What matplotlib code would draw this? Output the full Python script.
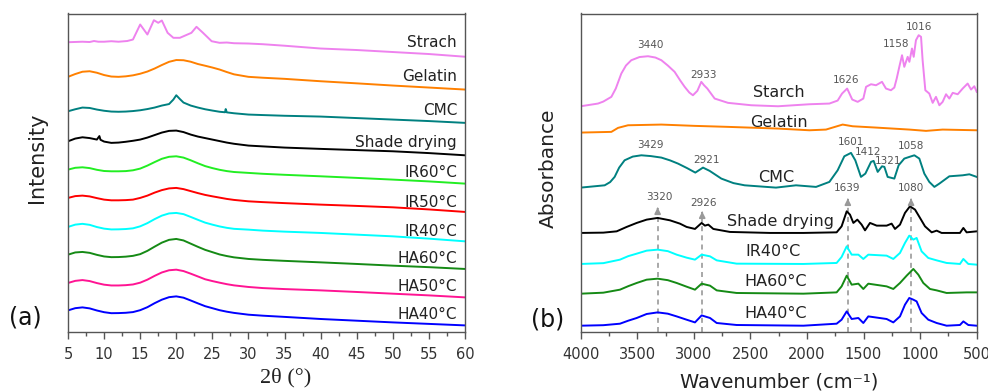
import numpy as np
import matplotlib
matplotlib.use("Agg")
import matplotlib.pyplot as plt

# ---- XRD data (a) ----
two_theta = [5, 6, 7, 8, 9, 10, 11, 12, 13, 14, 15, 16, 17, 18, 19, 20, 21, 22, 23, 24,
             25, 26, 27, 28, 30, 32, 35, 40, 45, 50, 55, 60]

starch_tt = [5, 7, 8, 8.6, 9.2, 10, 11, 12, 13.2, 14, 15, 16, 16.9, 17.5, 18, 18.8, 19.6,
             20.5, 22.1, 22.8, 23.7, 24.9, 26, 27, 28, 30, 32, 35, 40, 45, 50, 55, 60]
starch_xrd = [289.3, 289.8, 289.5, 290.5, 289.8, 289.8, 290.3, 289.8, 290.5, 292, 307, 297,
              311.3, 308.7, 311, 298.7, 293.7, 293.7, 298.7, 304.7, 298.7, 290.3, 288.7, 289,
              288.3, 288, 287.3, 285.8, 283, 281.5, 279.5, 277.5, 274.8]
gelatin_xrd = [254.7, 257.5, 259.8, 260.3, 258.8, 256.5, 255, 254.7, 255.2, 256.2, 257.8, 260,
               263, 266.5, 269.7, 271.5, 271.3, 269.8, 267.5, 265.8, 264, 262, 259.5, 257.2,
               254.7, 253.8, 252.7, 250.3, 248.2, 246, 244, 242]
cmc_tt = [5, 6, 7, 8, 9, 10, 11, 12, 13, 14, 15, 16, 17, 18, 19, 19.6, 20, 20.5, 21, 22, 23,
          24, 25, 26, 26.75, 26.85, 27, 28, 30, 32, 35, 40, 45, 50, 55, 60]
cmc_xrd = [220.3, 222.3, 224, 223.6, 222, 220.8, 220, 219.8, 220, 220.5, 221.3, 222.5, 224,
           226, 227.5, 232, 236.3, 232.5, 229, 226, 224, 222.3, 221, 219.8, 219.3, 222.5,
           219.2, 218.3, 217, 216.5, 215.8, 215, 213.5, 212, 210.5, 208.7]
shade_tt = [5, 6, 7, 8, 9, 9.35, 9.5, 10, 11, 12, 13, 14, 15, 16, 17, 18, 19, 20, 21, 22, 23,
            24, 25, 26, 27, 28, 30, 32, 35, 40, 45, 50, 55, 60]
shade_xrd = [190.3, 193, 194.3, 193.5, 192, 195.5, 191.8, 190, 188.7, 189, 189.8, 190.8, 192,
             194, 196.5, 199, 200.7, 201, 199.5, 197, 195, 193.5, 192, 190.5, 189, 187.8, 186,
             185.2, 184, 182.7, 181.5, 180.3, 178.5, 176.3]
ir60_xrd = [162, 163.8, 164.3, 163.5, 161.8, 160.6, 160.3, 160.3, 160.5, 161.3, 163, 166,
            169.5, 172.8, 174.8, 175.3, 174, 171.3, 168.3, 165.5, 163.5, 161.8, 160.5, 159.6,
            158.7, 157.8, 156.8, 155.3, 153.7, 152, 150.2, 148]
ir50_xrd = [133.7, 135.5, 136, 135.2, 133.5, 132, 131.3, 131.3, 131.5, 132, 133.7, 136, 139,
            141.5, 143.2, 143.7, 142.5, 140.5, 138.5, 136.7, 135.3, 134, 132.7, 131.7, 130.3,
            129.5, 128.5, 127, 125.7, 124.3, 122.2, 119.7]
ir40_xrd = [104.7, 107, 107.8, 106.8, 104.6, 103, 102.2, 102.3, 102.6, 103.3, 105.3, 108.5,
            112.5, 116, 118.2, 118.7, 117.5, 114.7, 111.8, 109, 107, 105.2, 103.8, 102.8, 102,
            101, 100, 98.7, 97, 95.3, 93, 90.3]
ha60_xrd = [77, 79.2, 79.7, 78.8, 76.8, 75.2, 74.5, 74.6, 75, 75.8, 77.5, 80.8, 85, 89, 91.8,
            92.7, 91.2, 88, 84.8, 81.8, 79.5, 77.2, 75.6, 74.3, 72.7, 71.8, 70.8, 69.3, 67.7,
            66, 64.5, 62.7]
ha50_xrd = [48.7, 50.8, 51.6, 50.6, 48.6, 47, 46.2, 46.2, 46.5, 47.2, 49, 52, 55.8, 59.2, 61.4,
            62, 60.6, 58, 55.2, 52.4, 50.6, 49, 47.5, 46.3, 44.7, 43.6, 42.6, 41.3, 39.7, 38,
            36.3, 34.3]
ha40_xrd = [21.3, 23.5, 24.3, 23.3, 21.2, 19.5, 18.5, 18.6, 18.9, 19.6, 21.5, 24.5, 28.5, 32,
            34.5, 35.3, 34, 31.2, 28.3, 25.5, 23.5, 21.5, 20, 18.8, 17, 16, 14.8, 12.7, 11, 9.3,
            7.8, 6.3]

# ---- FTIR data (b) ----
starch_wn = [4000, 3847, 3800, 3729, 3690, 3641, 3600, 3553, 3480, 3405, 3340, 3287, 3230,
             3170, 3120, 3081, 3040, 3008, 2969, 2934, 2910, 2881, 2816, 2698, 2492, 2256,
             1979, 1802, 1729, 1690, 1645, 1600, 1552, 1502, 1478, 1434, 1390, 1337, 1302,
             1258, 1228, 1207, 1184, 1160, 1140, 1110, 1095, 1072, 1057, 1037, 1013, 992, 978,
             954, 919, 889, 860, 830, 801, 771, 742, 712, 668, 624, 580, 550, 521, 500]
starch_ab = [225.3, 228, 230, 234.7, 243, 258, 266, 271.3, 274.5, 275.3, 274, 271.3, 266,
             259.7, 251, 244.7, 239, 236.3, 240.7, 249.7, 246.3, 243, 233, 228.7, 226.3, 225.3,
             227.3, 228, 231, 238, 243, 232, 229.7, 233, 244.7, 247.3, 246.3, 249.7, 243,
             241.3, 244, 253, 264.7, 276.3, 264.7, 274.7, 269.7, 283, 274.7, 291.3, 296.3,
             294.7, 271.3, 241.3, 238, 228.7, 234.7, 226.3, 229.7, 237.3, 233, 238.7, 237.3,
             243, 248, 242, 245.3, 239.7]
gelatin_wn = [4000, 3729, 3670, 3582, 3287, 2993, 2698, 2256, 1979, 1832, 1685, 1596, 1390,
              1095, 948, 801, 500]
gelatin_ab = [199, 199.7, 203.7, 206.3, 207, 205.7, 204.7, 203, 201.3, 202, 207, 205.3, 204,
              202, 200.7, 202, 201.3]
cmc_wn = [4000, 3788, 3740, 3700, 3660, 3612, 3540, 3464, 3380, 3287, 3210, 3140, 3060, 2987,
          2919, 2860, 2757, 2650, 2551, 2274, 2097, 1920, 1802, 1729, 1670, 1611, 1573, 1523,
          1484, 1434, 1411, 1375, 1337, 1316, 1287, 1228, 1190, 1140, 1095, 1051, 1007, 963,
          919, 874, 830, 742, 624, 565, 500]
cmc_ab = [144, 146.3, 149.5, 154.7, 164, 171.3, 175, 176.3, 175.5, 174, 171.2, 168, 163.5, 159,
          164, 160.7, 153, 148.5, 146.3, 144, 146.3, 144.7, 149.7, 161.3, 175.3, 178.7, 171.3,
          154.7, 158, 169.7, 170.7, 159.7, 165.3, 164.7, 154.7, 153, 166.3, 173, 174.7, 176.3,
          173, 158, 149.7, 144.7, 148, 155.3, 156.3, 157.3, 154.7]
shade_wn = [4000, 3800, 3682, 3594, 3505, 3417, 3320, 3211, 3123, 3064, 2990, 2931, 2902, 2872,
            2828, 2681, 2327, 2032, 1738, 1694, 1649, 1620, 1590, 1555, 1517, 1487, 1443, 1384,
            1296, 1252, 1222, 1178, 1134, 1090, 1045, 1001, 957, 898, 854, 810, 648, 618, 589,
            500]
shade_ab = [98.7, 99, 100.3, 104.7, 108.7, 112, 113.7, 111.3, 108, 104.7, 102.7, 108.7, 106,
            107, 102.7, 99.7, 98.7, 98.7, 99.3, 105.3, 120.3, 117, 108.7, 112, 107, 101.3, 108.7,
            106, 106, 108, 102.7, 107, 118.7, 125.3, 122, 113.7, 105.3, 99.3, 101, 98.7, 98.7,
            103.7, 99.3, 100.3]
ir40_wn = [4000, 3800, 3653, 3580, 3505, 3417, 3320, 3230, 3152, 3064, 2990, 2931, 2857, 2798,
           2622, 2032, 1738, 1694, 1649, 1605, 1546, 1502, 1458, 1296, 1237, 1178, 1134, 1096,
           1060, 1031, 987, 928, 854, 766, 648, 618, 574, 500]
ir40_ab = [67.7, 68.5, 72, 75.5, 78, 81, 82, 80.5, 77, 74, 72, 77, 75.3, 71.3, 68, 67.7, 68.7,
           74.7, 85.3, 77, 77, 72.7, 77, 76, 72.7, 78.7, 88.7, 96, 92, 93.7, 80.3, 73.7, 71.3,
           68.7, 67.7, 72.7, 67.7, 67]
ha60_wn = [4000, 3800, 3653, 3580, 3505, 3417, 3320, 3230, 3152, 3064, 2990, 2931, 2857, 2798,
           2622, 2032, 1738, 1694, 1649, 1605, 1546, 1502, 1458, 1296, 1237, 1178, 1119, 1060,
           1016, 972, 913, 854, 766, 589, 500]
ha60_ab = [38, 39, 42, 45.5, 48.7, 52, 53, 51.5, 48.7, 45, 42, 48, 46, 41.3, 38.7, 38, 39.3,
           45.3, 56, 47, 48, 42.7, 48, 45.3, 42.7, 48.7, 56, 62.7, 57, 48.7, 42.7, 41.3, 38.7,
           39.3, 39.3]
ha40_wn = [4000, 3800, 3653, 3580, 3505, 3417, 3320, 3230, 3152, 3064, 2990, 2931, 2857, 2798,
           2622, 2032, 1738, 1694, 1649, 1605, 1546, 1502, 1458, 1296, 1237, 1178, 1134, 1096,
           1060, 1031, 987, 928, 854, 766, 648, 618, 574, 500]
ha40_ab = [6, 6.5, 8, 11, 13.7, 17.7, 19.3, 18, 15.3, 12, 9.3, 16.3, 13.7, 8.7, 6.7, 6, 8, 12,
           20.3, 12.7, 13.7, 8.7, 15.3, 12.7, 9.3, 15.3, 27, 33.7, 32, 30.3, 18.7, 12, 8.7, 6,
           6.7, 10.3, 6.7, 6]

marked_peaks = [3320, 2926, 1639, 1080]

plt.rcParams["font.family"] = "DejaVu Sans"
W, H = 988, 391
fig = plt.figure(figsize=(W / 100, H / 100), dpi=100)
ax1 = fig.add_axes([68 / W, 1 - 331.7 / H, 397 / W, 318.2 / H])
ax2 = fig.add_axes([580.7 / W, 1 - 331.7 / H, 396 / W, 318.2 / H])

lw = 1.4
xrd = [
    (starch_tt, starch_xrd, "#ee82ee", "Strach", 289),
    (two_theta, gelatin_xrd, "#ff8000", "Gelatin", 255.3),
    (cmc_tt, cmc_xrd, "#008080", "CMC", 221),
    (shade_tt, shade_xrd, "black", "Shade drying", 189.3),
    (two_theta, ir60_xrd, "#22ee22", "IR60°C", 159),
    (two_theta, ir50_xrd, "#ff0000", "IR50°C", 129),
    (two_theta, ir40_xrd, "#00ffff", "IR40°C", 100.3),
    (two_theta, ha60_xrd, "#158a15", "HA60°C", 72.7),
    (two_theta, ha50_xrd, "#ff1493", "HA50°C", 45.3),
    (two_theta, ha40_xrd, "#0000ff", "HA40°C", 17),
]
for x, y, c, name, ty in xrd:
    ax1.plot(x, y, color=c, lw=lw)
    ax1.text(58.9, ty, name, ha="right", va="center", fontsize=11, color="#222")

ax1.set_xlim(5, 60)
ax1.set_ylim(0, 318)
ax1.set_xticks(np.arange(5, 61, 5))
ax1.set_xticks(np.arange(7.5, 60, 5), minor=True)
ax1.set_yticks([])

ftir = [
    (starch_wn, starch_ab, "#ee82ee", "Starch", 2250, 238.7),
    (gelatin_wn, gelatin_ab, "#ff8000", "Gelatin", 2250, 209.3),
    (cmc_wn, cmc_ab, "#008080", "CMC", 2268, 153.7),
    (shade_wn, shade_ab, "black", "Shade drying", 2232, 109.7),
    (ir40_wn, ir40_ab, "#00ffff", "IR40°C", 2303, 80.3),
    (ha60_wn, ha60_ab, "#158a15", "HA60°C", 2276, 50.3),
    (ha40_wn, ha40_ab, "#0000ff", "HA40°C", 2276, 18),
]
for x, y, c, name, tx, ty in ftir:
    ax2.plot(x, y, color=c, lw=lw)
    ax2.text(tx, ty, name, ha="center", va="center", fontsize=11.5, color="#222")

# dashed guide lines with arrows
tips = {3320: 127, 2926: 123, 1639: 136, 1080: 136}
for wn in marked_peaks:
    tip = tips[wn]
    ax2.plot([wn, wn], [0, tip - 6], ls=(0, (3, 2.5)), color="#999999", lw=1.2, zorder=0)
    ax2.annotate("", xy=(wn, tip), xytext=(wn, tip - 7),
                 arrowprops=dict(arrowstyle="-|>", color="#999999", lw=1.2, mutation_scale=9))

peak_labels = [
    ("3440", 3382, 286.3), ("2933", 2919, 257), ("1626", 1655, 251.3), ("1158", 1213, 287.3),
    ("1016", 1007, 304.7), ("3429", 3382, 186.3), ("2921", 2890, 171.3), ("1601", 1611, 189.7),
    ("1412", 1464, 179.7), ("1321", 1287, 170.3), ("1058", 1081, 185.3), ("1639", 1649, 143.7),
    ("1080", 1081, 143.7), ("3320", 3302, 134.7), ("2926", 2919, 129),
]
for txt, x, y in peak_labels:
    ax2.text(x, y, txt, ha="center", va="center", fontsize=7.5, color="#555555")

ax2.set_xlim(4000, 500)
ax2.set_ylim(0, 318)
ax2.set_xticks(np.arange(4000, 499, -500))
ax2.set_xticks(np.arange(3750, 500, -500), minor=True)
ax2.set_yticks([])

for ax in (ax1, ax2):
    for s in ax.spines.values():
        s.set_color("#555555")
        s.set_linewidth(1.0)
    ax.tick_params(axis="x", which="major", length=5, width=1, color="#555555",
                   labelsize=10.5, labelcolor="#333333", pad=6)
    ax.tick_params(axis="x", which="minor", length=3, width=1, color="#555555")

fig.text(286 / W, 1 - 378 / H, "2θ (°)", ha="center", va="center", fontsize=16,
         family="Liberation Serif", color="#222")
fig.text(778.7 / W, 1 - 381.7 / H, "Wavenumber (cm⁻¹)", ha="center", va="center",
         fontsize=14, color="#222")
fig.text(37 / W, 1 - 158 / H, "Intensity", rotation=90, ha="center", va="center",
         fontsize=15, color="#222")
fig.text(548 / W, 1 - 168 / H, "Absorbance", rotation=90, ha="center", va="center",
         fontsize=14.5, color="#222")
fig.text(25 / W, 1 - 317 / H, "(a)", ha="center", va="center", fontsize=17, color="#111")
fig.text(548 / W, 1 - 320 / H, "(b)", ha="center", va="center", fontsize=17, color="#111")

fig.savefig("out.png", dpi=100)
